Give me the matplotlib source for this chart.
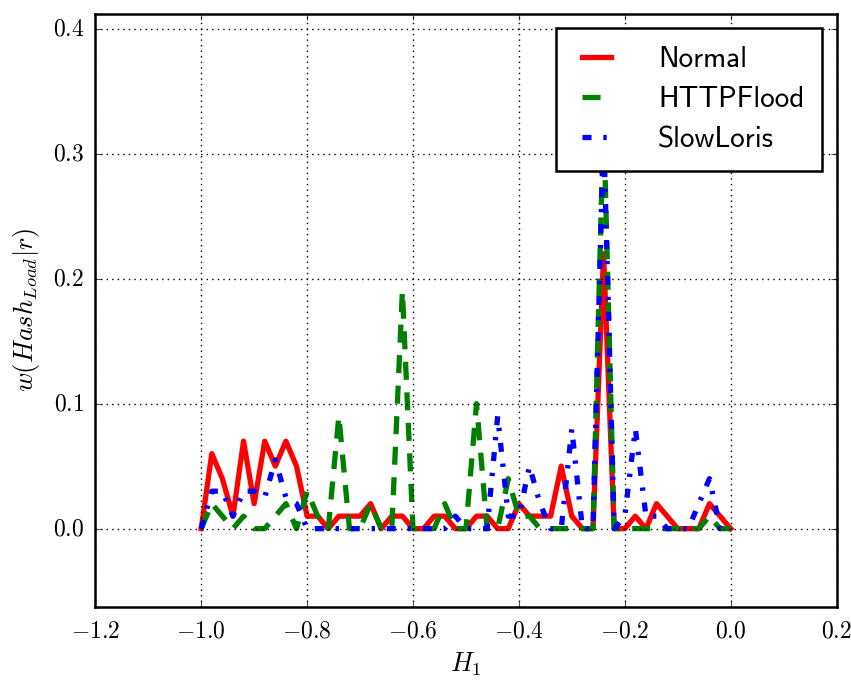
import matplotlib
matplotlib.use("Agg")
import matplotlib.pyplot as plt
from matplotlib.ticker import FuncFormatter, MultipleLocator
from matplotlib.font_manager import FontProperties

# H1 grid shared by all three series
h1 = [-1.00, -0.98, -0.96, -0.94, -0.92, -0.90, -0.88, -0.86, -0.84, -0.82,
      -0.80, -0.78, -0.76, -0.74, -0.72, -0.70, -0.68, -0.66, -0.64, -0.62,
      -0.60, -0.58, -0.56, -0.54, -0.52, -0.50, -0.48, -0.46, -0.44, -0.42,
      -0.40, -0.38, -0.36, -0.34, -0.32, -0.30, -0.28, -0.26, -0.24, -0.22,
      -0.20, -0.18, -0.16, -0.14, -0.12, -0.10, -0.08, -0.06, -0.04, -0.02,
      0.00]

normal = [0.00, 0.06, 0.04, 0.01, 0.07, 0.02, 0.07, 0.05, 0.07, 0.05,
          0.01, 0.01, 0.00, 0.01, 0.01, 0.01, 0.02, 0.00, 0.01, 0.01,
          0.00, 0.00, 0.01, 0.01, 0.00, 0.00, 0.01, 0.01, 0.00, 0.00,
          0.02, 0.01, 0.01, 0.01, 0.05, 0.01, 0.00, 0.00, 0.22, 0.00,
          0.00, 0.01, 0.00, 0.02, 0.01, 0.00, 0.00, 0.00, 0.02, 0.01,
          0.00]

httpflood = [0.00, 0.02, 0.01, 0.00, 0.01, 0.00, 0.00, 0.01, 0.02, 0.00,
             0.03, 0.01, 0.00, 0.09, 0.00, 0.00, 0.02, 0.00, 0.00, 0.19,
             0.00, 0.00, 0.00, 0.02, 0.00, 0.00, 0.10, 0.00, 0.00, 0.04,
             0.01, 0.01, 0.00, 0.00, 0.00, 0.00, 0.00, 0.00, 0.33, 0.00,
             0.00, 0.00, 0.00, 0.00, 0.00, 0.00, 0.00, 0.00, 0.01, 0.00,
             0.00]

slowloris = [0.00, 0.03, 0.03, 0.01, 0.03, 0.03, 0.025, 0.055, 0.025, 0.02,
             0.00, 0.00, 0.00, 0.00, 0.00, 0.00, 0.00, 0.00, 0.00, 0.00,
             0.00, 0.00, 0.00, 0.00, 0.01, 0.00, 0.00, 0.00, 0.09, 0.01,
             0.01, 0.05, 0.02, 0.00, 0.00, 0.08, 0.00, 0.00, 0.32, 0.00,
             0.01, 0.08, 0.01, 0.01, 0.00, 0.00, 0.00, 0.02, 0.04, 0.00,
             0.00]

plt.style.use("classic")
plt.rcParams["mathtext.fontset"] = "cm"
plt.rcParams["lines.scale_dashes"] = False

fig = plt.figure(figsize=(8.51, 6.84), dpi=100, facecolor="white")
ax = fig.add_axes([0.112, 0.112, 0.871, 0.868])

ax.plot(h1, normal, color="r", lw=3.8, label="Normal")
ax.plot(h1, httpflood, color="g", lw=3.8, dashes=(13, 9), label="HTTPFlood")
ax.plot(h1, slowloris, color="b", lw=3.8, dashes=(6.5, 8.5, 2.4, 8.5), label="SlowLoris")

ax.set_xlim(-1.2, 0.2)
ax.set_ylim(-0.063, 0.412)
ax.xaxis.set_major_locator(MultipleLocator(0.2))
ax.yaxis.set_major_locator(MultipleLocator(0.1))
fmt = FuncFormatter(lambda v, p: r"$%.1f$" % (0.0 if abs(v) < 1e-9 else v))
ax.xaxis.set_major_formatter(fmt)
ax.yaxis.set_major_formatter(fmt)
ax.tick_params(labelsize=17, pad=8)
ax.grid(True, color="k", linestyle=":", linewidth=1)
for s in ax.spines.values():
    s.set_linewidth(1.8)

ax.set_xlabel(r"$H_1$", fontsize=19, labelpad=6)
ax.set_ylabel(r"$w(Hash_{Load}|r)$", fontsize=19, labelpad=8)

leg = ax.legend(loc="upper right", prop=FontProperties(family="cmss10", size=21),
                handlelength=1.6, handletextpad=1.3, borderpad=0.6,
                labelspacing=0.45, fancybox=False, borderaxespad=0.5)
leg.get_frame().set_linewidth(1.8)
leg.get_frame().set_edgecolor("k")

fig.savefig("out.png", dpi=100, facecolor="white")
